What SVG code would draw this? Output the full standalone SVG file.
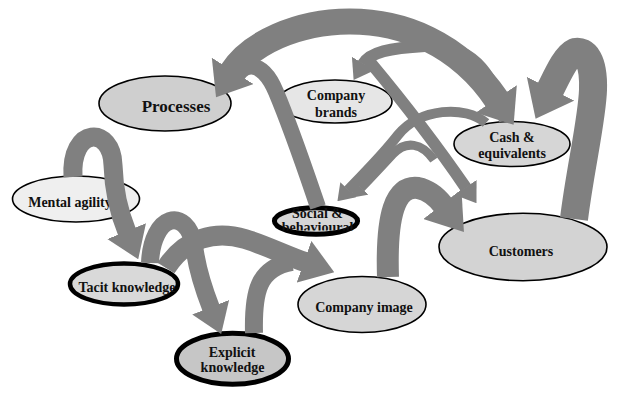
<svg xmlns="http://www.w3.org/2000/svg" width="624" height="402" viewBox="0 0 624 402">
<defs>
<style>
.n{stroke:#000;stroke-width:1.6}
.nb{stroke:#000;stroke-width:5}
.t{font-family:"Liberation Serif","Times New Roman",serif;font-weight:bold;font-size:14px;fill:#111;text-anchor:middle}
.c{fill:none;stroke:#808080;stroke-linecap:butt;stroke-linejoin:round}
</style>
<marker id="ah" viewBox="0 0 16 22" refX="0.5" refY="11" markerWidth="1.6" markerHeight="2.2" orient="auto-start-reverse" markerUnits="strokeWidth"><path d="M0,0 L16,11 L0,22 Z" fill="#808080"/></marker>
<marker id="ahw" viewBox="0 0 12 19" refX="0.5" refY="9.5" markerWidth="1.2" markerHeight="1.9" orient="auto-start-reverse" markerUnits="strokeWidth"><path d="M0,0 L12,9.5 L0,19 Z" fill="#808080"/></marker>
<clipPath id="sbclip"><rect x="260" y="200" width="120" height="30.5"/></clipPath>
</defs>
<rect width="624" height="402" fill="#fff"/>
<g id="nodes">
<g id="processes"><ellipse class="n" cx="165" cy="103.5" rx="66" ry="27.5" fill="#cfcfcf"/><text class="t" x="176" y="111.5" style="font-size:17px">Processes</text></g>
<g id="company-brands"><ellipse class="n" cx="335" cy="101.5" rx="57" ry="21.5" fill="#e6e6e6"/><text class="t" x="336" y="100">Company</text><text class="t" x="336" y="116.5">brands</text></g>
<g id="cash"><ellipse class="n" cx="512" cy="144" rx="58" ry="22.5" fill="#d6d6d6"/><text class="t" x="512" y="141.5">Cash &amp;</text><text class="t" x="512" y="157.5">equivalents</text></g>
<g id="mental-agility"><ellipse class="n" cx="76" cy="199" rx="63.5" ry="23" fill="#efefef"/><text class="t" x="70" y="207">Mental agility</text></g>
<g id="tacit-knowledge"><ellipse class="nb" style="stroke-width:4.5" cx="124" cy="284" rx="54" ry="20.5" fill="#d9d9d9"/><text class="t" x="127" y="292">Tacit knowledge</text></g>
<g id="explicit-knowledge"><ellipse class="nb" cx="232.5" cy="358.7" rx="56" ry="25.5" fill="#c6c6c6"/><text class="t" x="232" y="356.5">Explicit</text><text class="t" x="232.5" y="371.5">knowledge</text></g>
<g id="social-behavioural"><ellipse class="nb" cx="316" cy="221" rx="41.6" ry="13.3" fill="#d6d6d6"/><text class="t" x="317.5" y="217.5">Social &amp;</text><text class="t" x="317.5" y="232" clip-path="url(#sbclip)">behavioural</text></g>
<g id="company-image"><ellipse class="n" cx="362" cy="304.5" rx="64" ry="28" fill="#d6d6d6"/><text class="t" x="364" y="311.5">Company image</text></g>
<g id="customers"><ellipse class="n" cx="523" cy="247" rx="84" ry="33.7" fill="#d3d3d3"/><text class="t" x="521" y="255.5">Customers</text></g>
</g>
<g id="connectors">
<path class="c" style="stroke-width:26" d="M 232,72 C 268,15 420,-15 497,100" marker-start="url(#ahw)" marker-end="url(#ahw)"/>
<path class="c" style="stroke-width:12" d="M 505,121 C 492,62 462,44 425,46 C 390,48 370,52 363,64" marker-end="url(#ah)"/>
<path class="c" style="stroke-width:12" d="M 370,62 C 400,98 440,150 466,188" marker-end="url(#ah)"/>
<path class="c" style="stroke-width:10" d="M 486,123 C 465,105 420,108 398,135 C 380,158 362,175 348,190" marker-end="url(#ah)"/>
<path class="c" style="stroke-width:9" d="M 434,160 C 422,143 406,140 393,154 C 381,167 369,180 361,188" marker-end="url(#ah)"/>
<path class="c" style="stroke-width:28" d="M 574,219 C 580,170 592,120 593,90 C 594,60 585,50 575,52 C 566,56 558,74 550,90" marker-end="url(#ahw)"/>
<path class="c" style="stroke-width:16" d="M 233,86 C 240,60 262,58 276,92 C 292,130 306,172 318,207"/>
<path class="c" style="stroke-width:19" d="M 73,177 C 70,126 112,126 113,165 C 114,195 120,215 127,232" marker-end="url(#ah)"/>
<path class="c" style="stroke-width:18" d="M 150,263 C 152,214 186,206 194,245 C 196,262 202,285 211,308" marker-end="url(#ah)"/>
<path class="c" style="stroke-width:20" d="M 166,268 C 185,238 215,230 245,239 C 265,245 285,255 305,262" marker-end="url(#ah)"/>
<path class="c" style="stroke-width:18" d="M 254,333 C 253,292 258,268 292,262"/>
<path class="c" style="stroke-width:22" d="M 388,277 C 386,215 395,185 418,188 C 428,190 436,196 443,205" marker-end="url(#ah)"/>
</g>
</svg>
